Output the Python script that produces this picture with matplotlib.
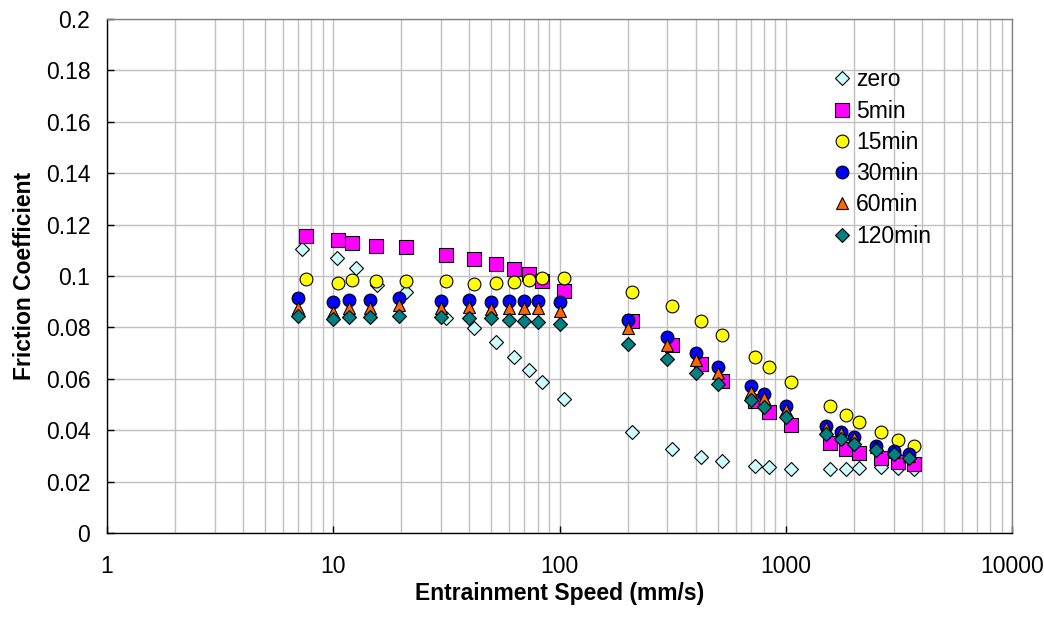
import matplotlib
matplotlib.use('Agg')
import matplotlib.pyplot as plt
from matplotlib.ticker import FixedLocator, FuncFormatter, LogLocator, NullFormatter

plt.rcParams['font.family'] = ['Liberation Sans', 'DejaVu Sans']

# speeds (mm/s)
speed_zero = [7.3, 10.4, 12.6, 15.6, 21, 31.5, 42, 52.5, 63, 73.5, 84, 105,
              210, 315, 420, 525, 735, 840, 1050, 1575, 1837, 2100, 2625, 3150, 3675]
speed_5 = [7.6, 10.5, 12.1, 15.5, 21, 31.5, 42, 52.5, 63, 73.5, 84, 105,
           210, 315, 420, 525, 735, 840, 1050, 1575, 1837, 2100, 2625, 3150, 3675]
speed_b = [7, 10, 11.7, 14.6, 19.6, 30, 40, 50, 60, 70, 80, 100,
           200, 300, 400, 500, 700, 800, 1000, 1500, 1750, 2000, 2500, 3000, 3500]

mu_zero = [0.1105, 0.1069, 0.1030, 0.0965, 0.0939, 0.0838, 0.0796, 0.0742, 0.0686, 0.0634, 0.0589, 0.0521,
           0.0392, 0.0327, 0.0294, 0.0280, 0.0262, 0.0258, 0.0249, 0.0249, 0.0249, 0.0253, 0.0256, 0.0252, 0.0249]
mu_5 = [0.1156, 0.1142, 0.1127, 0.1118, 0.1111, 0.1082, 0.1067, 0.1047, 0.1026, 0.1008, 0.0982, 0.0943,
        0.0826, 0.0731, 0.0656, 0.0592, 0.0512, 0.0472, 0.0420, 0.0349, 0.0326, 0.0310, 0.0291, 0.0275, 0.0268]
mu_15 = [0.0988, 0.0974, 0.0984, 0.0981, 0.0981, 0.0980, 0.0970, 0.0971, 0.0977, 0.0984, 0.0994, 0.0994,
         0.0938, 0.0882, 0.0825, 0.0769, 0.0685, 0.0647, 0.0587, 0.0495, 0.0458, 0.0433, 0.0394, 0.0362, 0.0340]
mu_30 = [0.0913, 0.0900, 0.0906, 0.0906, 0.0913, 0.0904, 0.0906, 0.0900, 0.0904, 0.0902, 0.0902, 0.0900,
         0.0829, 0.0761, 0.0699, 0.0647, 0.0572, 0.0541, 0.0495, 0.0416, 0.0393, 0.0375, 0.0340, 0.0319, 0.0306]
mu_60 = [0.0877, 0.0861, 0.0874, 0.0874, 0.0887, 0.0877, 0.0878, 0.0873, 0.0877, 0.0877, 0.0877, 0.0864,
         0.0796, 0.0731, 0.0673, 0.0621, 0.0550, 0.0524, 0.0478, 0.0407, 0.0388, 0.0368, 0.0333, 0.0314, 0.0300]
mu_120 = [0.0845, 0.0832, 0.0840, 0.0840, 0.0845, 0.0840, 0.0835, 0.0835, 0.0829, 0.0826, 0.0822, 0.0813,
          0.0735, 0.0677, 0.0624, 0.0581, 0.0517, 0.0491, 0.0452, 0.0385, 0.0364, 0.0347, 0.0323, 0.0306, 0.0291]

y_ticks = [0, 0.02, 0.04, 0.06, 0.08, 0.1, 0.12, 0.14, 0.16, 0.18, 0.2]
x_ticks = [1, 10, 100, 1000, 10000]

FS = 16.5

fig = plt.figure(figsize=(10.44, 6.18), dpi=100)
ax = fig.add_axes([107 / 1044, 85 / 618, 905 / 1044, 514 / 618])

series = [
    ('zero', speed_zero, mu_zero, 'D', '#CCFFFF', 7.6),
    ('5min', speed_5, mu_5, 's', '#FF00FF', 9.4),
    ('15min', speed_5, mu_15, 'o', '#FFFF00', 9.2),
    ('30min', speed_b, mu_30, 'o', '#0000FF', 9.2),
    ('60min', speed_b, mu_60, '^', '#FF6600', 9.0),
    ('120min', speed_b, mu_120, 'D', '#008080', 7.6),
]
for name, xs, ys, mk, col, ms in series:
    ax.plot(xs, ys, linestyle='none', marker=mk, markersize=ms,
            markerfacecolor=col, markeredgecolor='black', markeredgewidth=0.8,
            label=name, clip_on=False)

ax.set_xscale('log')
ax.set_xlim(1, 10000)
ax.set_ylim(0, 0.2)
ax.xaxis.set_major_locator(FixedLocator(x_ticks))
ax.xaxis.set_major_formatter(FuncFormatter(lambda v, p: f'{v:g}'))
ax.xaxis.set_minor_locator(LogLocator(base=10, subs=range(2, 10)))
ax.xaxis.set_minor_formatter(NullFormatter())
ax.yaxis.set_major_locator(FixedLocator(y_ticks))
ax.yaxis.set_major_formatter(FuncFormatter(lambda v, p: f'{v:g}'))

ax.grid(which='major', color='#c0c0c0', linewidth=1.0)
ax.grid(which='minor', axis='x', color='#c0c0c0', linewidth=1.0)
ax.set_axisbelow(True)

ax.tick_params(which='major', direction='in', length=5, width=1, labelsize=FS, colors='black')
ax.tick_params(axis='x', which='major', pad=16)
ax.tick_params(axis='y', which='major', pad=12)
ax.tick_params(which='minor', length=0)
for side in ['left', 'bottom']:
    ax.spines[side].set_color('black')
    ax.spines[side].set_linewidth(1.0)
for side in ['top', 'right']:
    ax.spines[side].set_color('#808080')
    ax.spines[side].set_linewidth(1.0)

ax.set_xlabel('Entrainment Speed (mm/s)', fontsize=FS, fontweight='bold', labelpad=3)
ax.set_ylabel('Friction Coefficient', fontsize=FS, fontweight='bold', labelpad=7)

leg = ax.legend(loc='upper left', bbox_to_anchor=(711 / 905, 0.935), frameon=False,
                fontsize=FS, handlelength=0.7, handletextpad=0.25, labelspacing=0.36,
                borderpad=0.2, markerscale=1.0)

fig.savefig('out.png', dpi=100)
